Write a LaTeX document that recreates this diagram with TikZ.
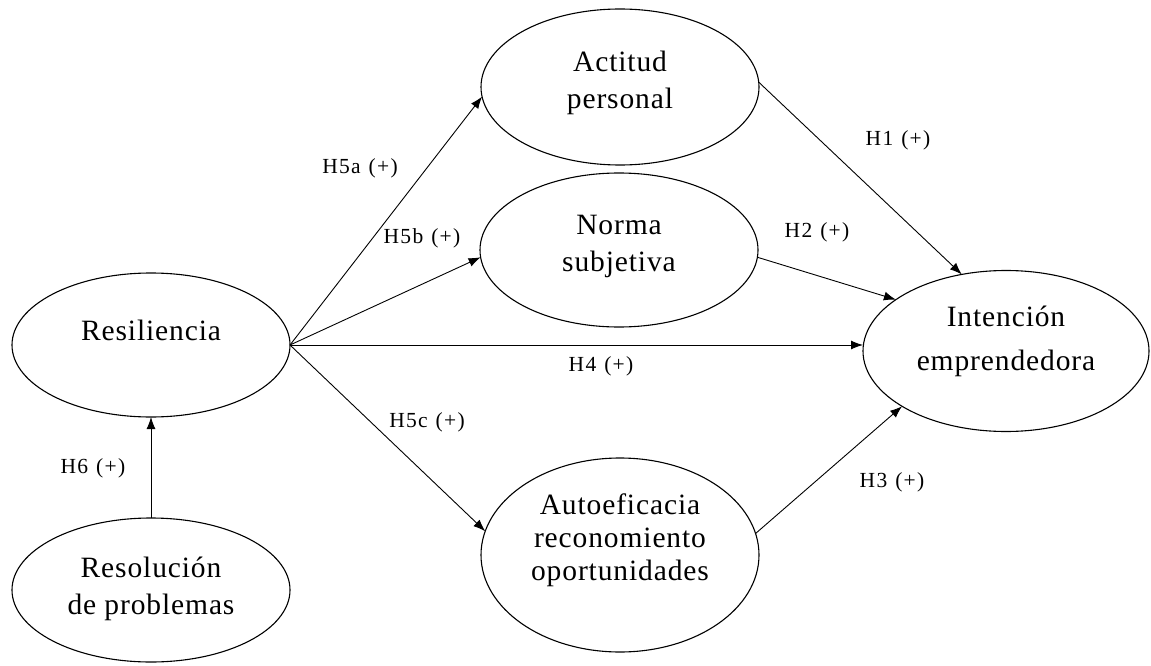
\documentclass[tikz,border=0pt]{standalone}
\usepackage{fontspec}
\setmainfont{Liberation Serif}
\newfontfamily\labfont[LetterSpace=6,WordSpace=1.2]{Liberation Serif}
\newfontfamily\mainfont[LetterSpace=3]{Liberation Serif}
\usetikzlibrary{shapes.geometric,arrows.meta}
\begin{document}
\begin{tikzpicture}[x=1pt,y=-1pt,
  construct/.style={draw=black,ellipse,line width=1.1pt,inner sep=0pt,outer sep=0pt},
  ctext/.style={align=center,font=\mainfont\fontsize{29.5}{37}\selectfont,inner sep=0pt},
  hlabel/.style={font=\labfont\fontsize{21.5}{24}\selectfont,inner sep=0pt},
  arr/.style={line width=0.9pt,-{Latex[length=12pt,width=9pt]}}]
\useasboundingbox (0,0) rectangle (1151,666);
% ellipses
\node[construct,minimum width=278pt,minimum height=156pt] (act) at (620,87) {};
\node[construct,minimum width=278pt,minimum height=154pt] (nor) at (619,250) {};
\node[construct,minimum width=278pt,minimum height=144pt] (res) at (151,345) {};
\node[construct,minimum width=278pt,minimum height=144pt] (rsp) at (151,590) {};
\node[construct,minimum width=286pt,minimum height=161pt] (int) at (1006,351) {};
\node[construct,minimum width=278pt,minimum height=194pt] (aut) at (620,555) {};
% texts
\node[ctext] (tact) at (620,83) {Actitud\\personal};
\node[ctext] (tnor) at (619,246) {Norma\\subjetiva};
\node[ctext] (tres) at (151,330) {Resiliencia};
\node[ctext] (trsp) at (151,589) {Resolución\\de problemas};
\node[ctext,font=\mainfont\fontsize{29.5}{44}\selectfont] (tint) at (1006,341) {Intención\\emprendedora};
\node[ctext,font=\mainfont\fontsize{29.5}{33}\selectfont] (taut) at (620,540) {Autoeficacia\\reconomiento\\oportunidades};
% connectors
\draw[arr] (res.east) -- (act.184);
\draw[arr] (res.east) -- (nor.183);
\draw[arr] (res.east) -- (res.east -| int.west);
\draw[arr] (res.east) -- (aut.170);
\draw[arr] (act.2) -- (int.120);
\draw[arr] (nor.357) -- (int.155);
\draw[arr] (aut.9) -- (int.208);
\draw[arr] (rsp.north) -- (res.south);
% labels
\node[hlabel] (l5a) at (360,168) {H5a (+)};
\node[hlabel] (l5b) at (422,238) {H5b (+)};
\node[hlabel] (l4) at (601,366) {H4 (+)};
\node[hlabel] (l5c) at (427,422) {H5c (+)};
\node[hlabel] (l1) at (898,140) {H1 (+)};
\node[hlabel] (l2) at (817,232) {H2 (+)};
\node[hlabel] (l3) at (892,482) {H3 (+)};
\node[hlabel] (l6) at (93,468) {H6 (+)};
\end{tikzpicture}
\end{document}
